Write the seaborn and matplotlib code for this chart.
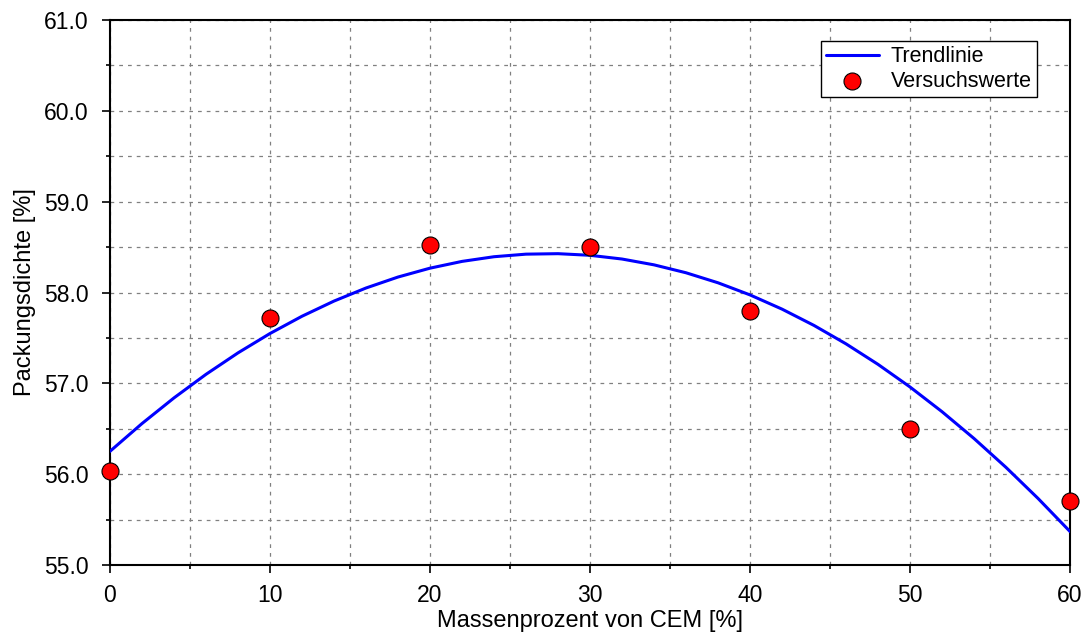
import numpy as np
import pandas as pd
import matplotlib
matplotlib.use("Agg")
import matplotlib.pyplot as plt
from matplotlib.ticker import MultipleLocator
import seaborn as sns

x_vals = [0, 10, 20, 30, 40, 50, 60]
y_vals = [56.03, 57.72, 58.52, 58.50, 57.80, 56.50, 55.71]

sns.set_style("white")
plt.rcParams['font.family'] = ['Liberation Sans', 'DejaVu Sans']
plt.rcParams['text.color'] = 'black'
plt.rcParams['axes.labelcolor'] = 'black'
plt.rcParams['xtick.color'] = 'black'
plt.rcParams['ytick.color'] = 'black'

df = pd.DataFrame({"x": x_vals, "y": y_vals})

fig = plt.figure(figsize=(10.87, 6.37), dpi=100)
ax = fig.add_axes([110/1087, 1-565/637, 960/1087, 545/637])

coef = np.polyfit(df["x"], df["y"], 2)
xs = np.linspace(0, 60, 31)
trend = pd.DataFrame({"x": xs, "y": np.polyval(coef, xs)})
sns.lineplot(data=trend, x="x", y="y", ax=ax, color="#0000ff", lw=2.2, label="Trendlinie", zorder=3)
sns.scatterplot(data=df, x="x", y="y", ax=ax, color="#ff0000", edgecolor="black", linewidth=0.8,
                s=150, label="Versuchswerte", zorder=4, clip_on=False)

ax.set_xlim(0, 60)
ax.set_ylim(55, 61)
ax.xaxis.set_major_locator(MultipleLocator(10))
ax.xaxis.set_minor_locator(MultipleLocator(5))
ax.yaxis.set_major_locator(MultipleLocator(1))
ax.yaxis.set_minor_locator(MultipleLocator(0.5))
ax.yaxis.set_major_formatter(matplotlib.ticker.FormatStrFormatter('%.1f'))
ax.grid(True, which="both", color="#808080", linestyle=(0, (3, 4)), linewidth=0.9)
ax.tick_params(axis="both", which="major", direction="out", length=5.5, width=1.2, labelsize=16.5, color="black")
ax.tick_params(axis="both", which="minor", direction="out", length=3, width=1.2, color="black")
ax.tick_params(axis="y", which="major", pad=10)
ax.tick_params(axis="x", which="major", pad=8)
ax.tick_params(axis="x", which="both", bottom=True)
ax.tick_params(axis="y", which="both", left=True)
for s in ax.spines.values():
    s.set_color("black")
    s.set_linewidth(1.5)
ax.set_xlabel("Massenprozent von CEM [%]", fontsize=17, labelpad=2)
ax.set_ylabel("Packungsdichte [%]", fontsize=17, labelpad=6)

leg = ax.legend(loc="upper right", bbox_to_anchor=(1037/1087, 1-41/637), bbox_transform=fig.transFigure,
                fontsize=15.5, frameon=True, fancybox=False, edgecolor="black", framealpha=1,
                borderpad=0.25, labelspacing=0.15, handlelength=2.45, handletextpad=0.55,
                borderaxespad=0)
leg.get_frame().set_linewidth(1.0)

fig.savefig("out.png", dpi=100)
